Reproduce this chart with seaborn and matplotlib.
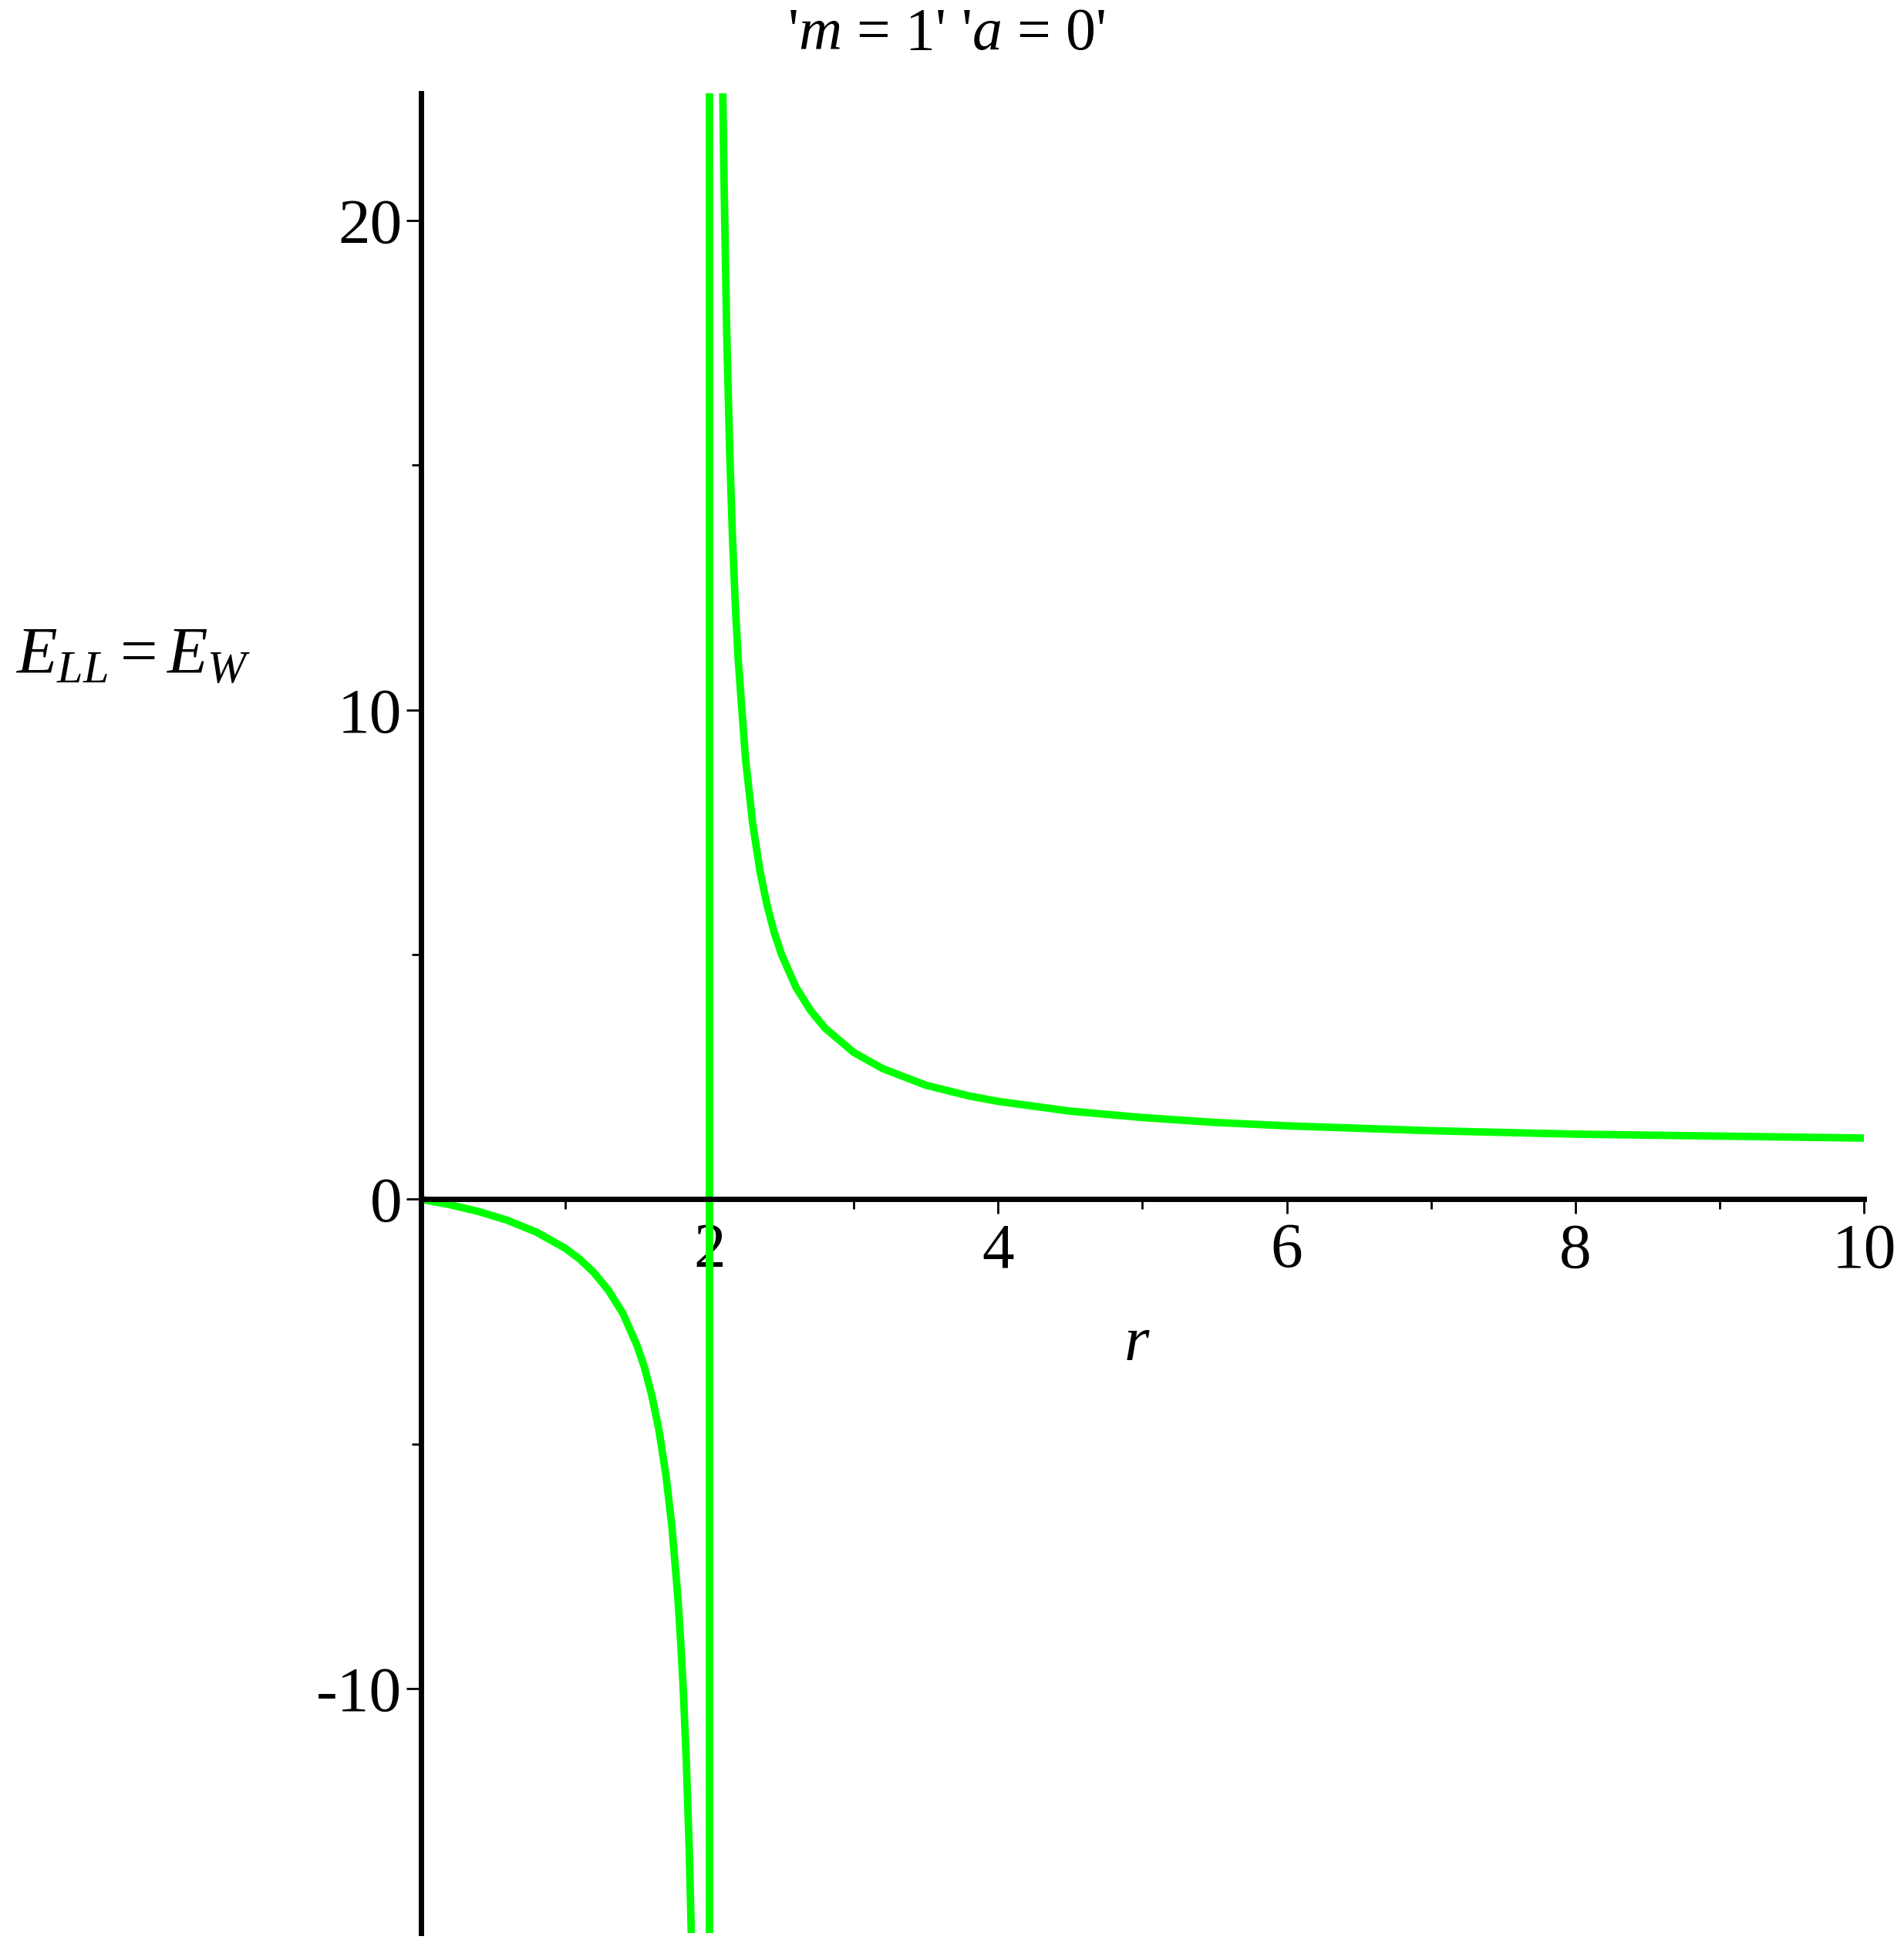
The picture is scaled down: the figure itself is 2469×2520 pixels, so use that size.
import matplotlib
matplotlib.use("Agg")
import matplotlib.pyplot as plt
import seaborn as sns
import pandas as pd

sns.set_style("white")
plt.rcParams["font.family"] = ["Liberation Serif", "DejaVu Serif"]
plt.rcParams["mathtext.fontset"] = "custom"
plt.rcParams["mathtext.it"] = "Liberation Serif:italic"
plt.rcParams["mathtext.rm"] = "Liberation Serif"
plt.rcParams["text.color"] = "black"
plt.rcParams["xtick.color"] = "black"
plt.rcParams["ytick.color"] = "black"
plt.rcParams["xtick.bottom"] = True
plt.rcParams["ytick.left"] = True

GREEN = "#00FF00"

# values
left_r = [0.0, 0.2, 0.4, 0.6, 0.8, 1.0, 1.1, 1.2, 1.3, 1.4, 1.5, 1.55, 1.6, 1.65,
          1.7, 1.74, 1.78, 1.8, 1.82, 1.84, 1.86, 1.88]
left_e = [0.0, -0.11, -0.25, -0.43, -0.67, -1.0, -1.22, -1.5, -1.86, -2.33, -3.0,
          -3.44, -4.0, -4.71, -5.67, -6.69, -8.09, -9.0, -10.1, -11.5, -13.3, -15.7]
right_r = [2.09, 2.1, 2.12, 2.14, 2.16, 2.18, 2.2, 2.25, 2.3, 2.35, 2.4, 2.45, 2.5,
           2.6, 2.7, 2.8, 3.0, 3.2, 3.5, 3.8, 4.0, 4.5, 5.0, 5.5, 6.0, 7.0, 8.0, 9.0, 10.0]
right_e = [23.2, 21.0, 17.7, 15.3, 13.5, 12.1, 11.0, 9.0, 7.67, 6.71, 6.0, 5.44, 5.0,
           4.33, 3.86, 3.5, 3.0, 2.67, 2.33, 2.11, 2.0, 1.8, 1.67, 1.57, 1.5, 1.4,
           1.33, 1.29, 1.25]
asym_r = [2.0, 2.0]
asym_e = [-15.0, 22.6]

df_left = pd.DataFrame({"r": left_r, "E": left_e})
df_right = pd.DataFrame({"r": right_r, "E": right_e})
df_asym = pd.DataFrame({"r": asym_r, "E": asym_e})

fig = plt.figure(figsize=(24.69, 25.2), dpi=100)
ax = fig.add_axes([0.221, 0.005, 0.758, 0.947])
for d in (df_left, df_right, df_asym):
    sns.lineplot(data=d, x="r", y="E", ax=ax, color=GREEN, lw=7, sort=False, estimator=None)

ax.set_xlim(0, 10)
ax.set_ylim(-15, 22.6)
ax.spines["left"].set_position(("data", 0))
ax.spines["bottom"].set_position(("data", 0))
ax.spines["right"].set_visible(False)
ax.spines["top"].set_visible(False)
for s in ("left", "bottom"):
    ax.spines[s].set_linewidth(5)
    ax.spines[s].set_color("black")

ax.set_xticks([2, 4, 6, 8, 10])
ax.set_xticks([1, 3, 5, 7, 9], minor=True)
ax.set_yticks([-10, 0, 10, 20])
ax.set_yticks([-5, 5, 15], minor=True)
ax.set_yticklabels(["-10", "0", "10", "20"])
ax.tick_params(which="both", direction="out", color="black", width=2,
               labelsize=60, labelcolor="black", bottom=True, left=True)
ax.tick_params(which="major", length=14)
ax.tick_params(which="minor", length=9)
ax.tick_params(axis="x", pad=8)
ax.set_xlabel("")
ax.set_ylabel("")

fig.text(0.597, 0.308, "$r$", fontsize=60, ha="center", va="center")
fig.text(0.07, 0.662, "$E_{LL} = E_W$", fontsize=62, ha="center", va="center")
fig.text(0.497, 0.982, "'$m$ = 1' '$a$ = 0'", fontsize=56, ha="center", va="center")

fig.savefig("out.png", dpi=100)
